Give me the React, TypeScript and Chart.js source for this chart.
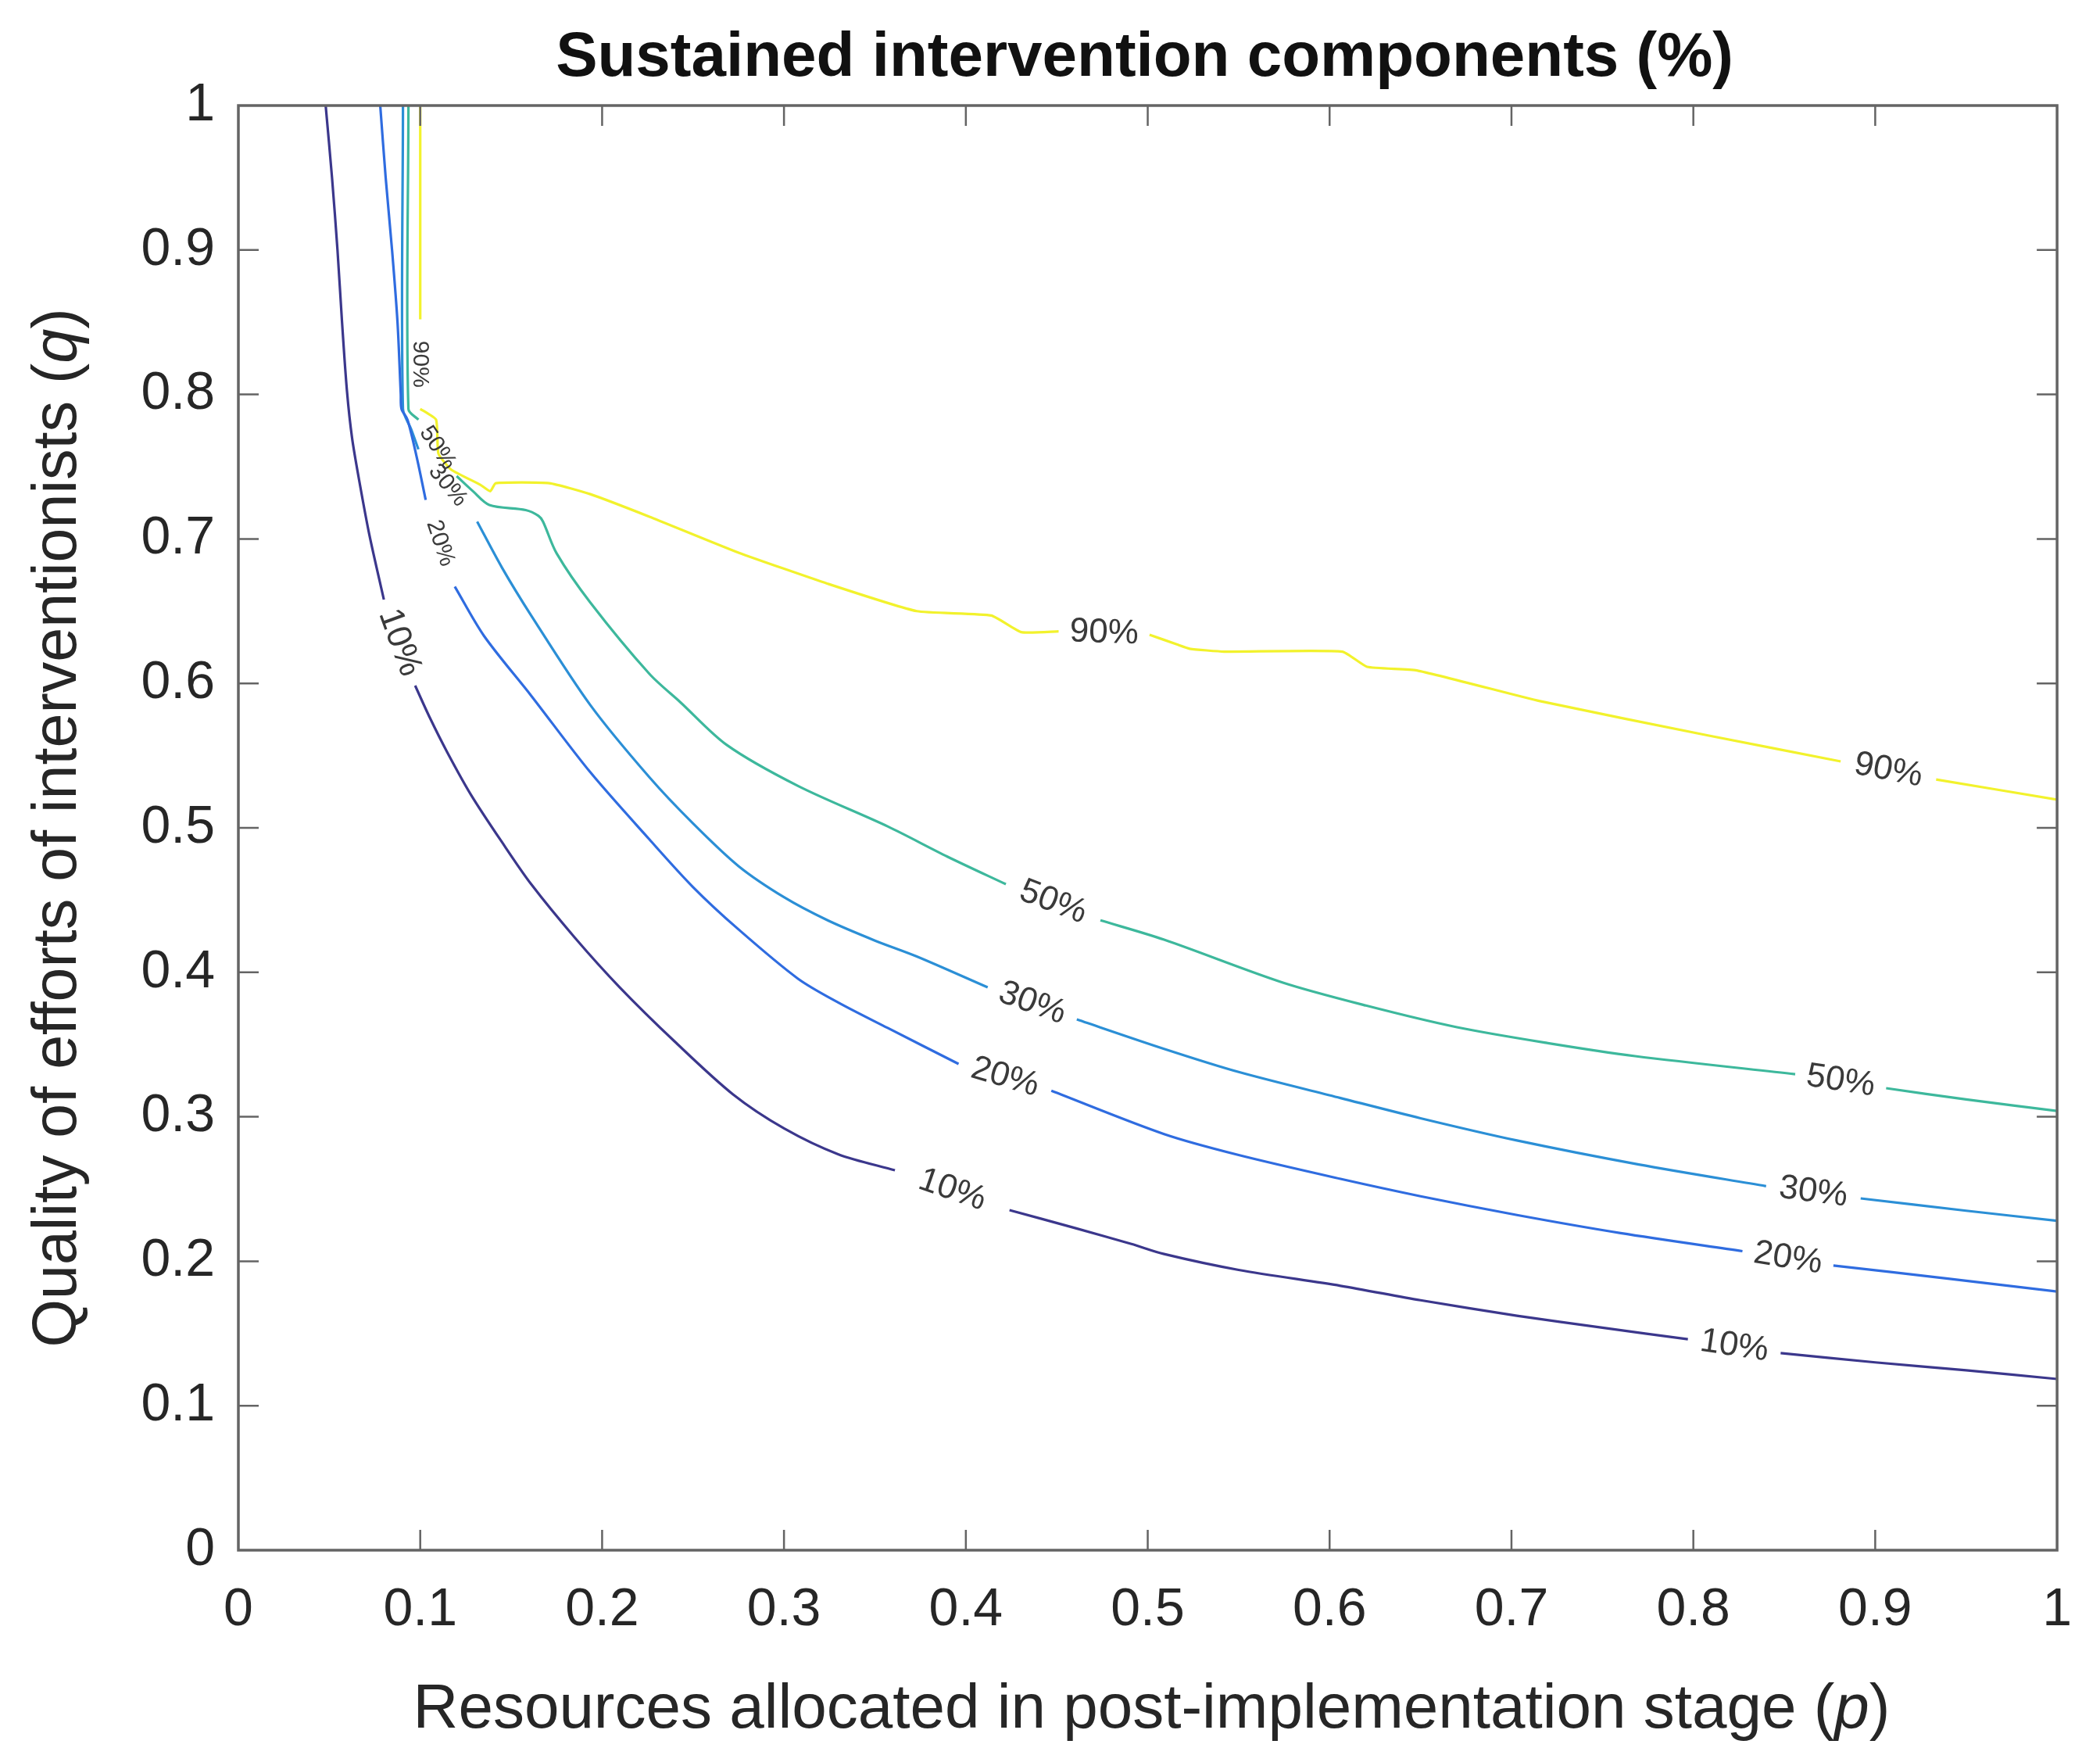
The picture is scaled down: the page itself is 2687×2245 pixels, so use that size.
import React, { useEffect, useRef } from 'react';
import { Chart, registerables } from 'chart.js';

Chart.register(...registerables);

// ---------------- data ----------------
type Pt = [number, number] | null; // [p, q]; null = gap where the level label sits

const levelNames = ['10%', '20%', '30%', '50%', '90%'];

const contour10: Pt[] = [
  [0.048, 1.0], [0.0515, 0.95], [0.0545, 0.9], [0.057, 0.85], [0.0597, 0.8025], [0.0625, 0.77],
  [0.0665, 0.74], [0.072, 0.703], [0.08, 0.658], null,
  [0.0972, 0.5985], [0.105, 0.577], [0.115, 0.552], [0.128, 0.5227], [0.145, 0.49], [0.161, 0.461],
  [0.185, 0.424], [0.2097, 0.3896], [0.24, 0.352], [0.272, 0.3155], [0.3, 0.292], [0.33, 0.274],
  [0.361, 0.263], null,
  [0.424, 0.2354], [0.46, 0.223], [0.491, 0.212], [0.509, 0.205], [0.55, 0.194], [0.606, 0.183],
  [0.65, 0.173], [0.703, 0.1623], [0.75, 0.154], [0.797, 0.146], null,
  [0.848, 0.1364], [0.9, 0.13], [0.95, 0.1245], [1.0, 0.1185],
];

const contour20: Pt[] = [
  [0.078, 1.0], [0.081, 0.95], [0.0845, 0.9], [0.0875, 0.85], [0.0893, 0.8], [0.0897, 0.79],
  [0.093, 0.7825], [0.098, 0.757], [0.103, 0.727], null,
  [0.119, 0.667], [0.135, 0.633], [0.161, 0.5915], [0.1935, 0.5385], [0.226, 0.492], [0.25, 0.459],
  [0.275, 0.4297], [0.3077, 0.3956], [0.33, 0.379], [0.357, 0.3615], [0.396, 0.3366], null,
  [0.447, 0.318], [0.509, 0.288], [0.55, 0.2735], [0.606, 0.257], [0.65, 0.245], [0.703, 0.232],
  [0.76, 0.2195], [0.827, 0.207], null,
  [0.877, 0.197], [0.94, 0.188], [1.0, 0.179],
];

const contour30: Pt[] = [
  [0.0905, 1.0], [0.0905, 0.79], [0.095, 0.776], [0.099, 0.762], null,
  [0.1313, 0.712], [0.145, 0.68], [0.161, 0.647], [0.1935, 0.585], [0.226, 0.535], [0.25, 0.503],
  [0.275, 0.4735], [0.3, 0.452], [0.324, 0.436], [0.35, 0.422], [0.373, 0.411], [0.412, 0.3896], null,
  [0.461, 0.3674], [0.509, 0.347], [0.55, 0.331], [0.606, 0.313], [0.65, 0.299], [0.703, 0.2836],
  [0.77, 0.267], [0.84, 0.252], null,
  [0.892, 0.2435], [0.95, 0.235], [1.0, 0.228],
];

const contour50: Pt[] = [
  [0.0935, 1.0], [0.0935, 0.79], [0.099, 0.7825], null,
  [0.12, 0.7435], [0.129, 0.733], [0.138, 0.7235], [0.158, 0.72], [0.165, 0.716], [0.1675, 0.712],
  [0.175, 0.69], [0.1935, 0.656], [0.226, 0.6066], [0.243, 0.587], [0.2685, 0.5574], [0.3077, 0.529],
  [0.357, 0.501], [0.39, 0.48], [0.422, 0.461], null,
  [0.474, 0.436], [0.509, 0.4226], [0.574, 0.393], [0.62, 0.377], [0.67, 0.362], [0.72, 0.351],
  [0.768, 0.342], [0.856, 0.3295], null,
  [0.906, 0.3198], [0.95, 0.312], [1.0, 0.304],
];

const contour90: Pt[] = [
  [0.1, 1.0], [0.1, 0.852], null,
  [0.1, 0.79], [0.1087, 0.7825], [0.11, 0.759], [0.117, 0.748], [0.133, 0.7375], [0.1385, 0.733],
  [0.1415, 0.7386], [0.171, 0.7386], [0.1935, 0.731], [0.226, 0.7154], [0.275, 0.6905], [0.324, 0.669],
  [0.373, 0.65], [0.414, 0.647], [0.4305, 0.6355], [0.451, 0.636], null,
  [0.501, 0.6337], [0.516, 0.627], [0.523, 0.624], [0.542, 0.622], [0.607, 0.622], [0.6206, 0.6115],
  [0.648, 0.609], [0.7157, 0.5877], [0.808, 0.564], [0.881, 0.546], null,
  [0.9335, 0.5335], [1.0, 0.5195],
];

const contours: Pt[][] = [contour10, contour20, contour30, contour50, contour90];

const xTickValues = [0, 0.1, 0.2, 0.3, 0.4, 0.5, 0.6, 0.7, 0.8, 0.9, 1];
const xTickLabels = ['0', '0.1', '0.2', '0.3', '0.4', '0.5', '0.6', '0.7', '0.8', '0.9', '1'];
const yTickValues = [0, 0.1, 0.2, 0.3, 0.4, 0.5, 0.6, 0.7, 0.8, 0.9, 1];
const yTickLabels = ['0', '0.1', '0.2', '0.3', '0.4', '0.5', '0.6', '0.7', '0.8', '0.9', '1'];

const titleText = 'Sustained intervention components (%)';
const xTitleParts = [
  { text: 'Resources allocated in post-implementation stage (', italic: false },
  { text: 'p', italic: true },
  { text: ')', italic: false },
];
const yTitleParts = [
  { text: 'Quality of efforts of interventionists (', italic: false },
  { text: 'q', italic: true },
  { text: ')', italic: false },
];

// ---------------- styles ----------------
const FONT = "'Liberation Sans', Arial, Helvetica, sans-serif";
const lineColors = ['#3B378C', '#2F6CE0', '#2B8FD6', '#3DB89C', '#F2F22C'];
const lineTension = [0.3, 0.3, 0.3, 0.3, 0.15];
const smallLabelKeys = ['1:0', '2:0', '3:0', '4:0'];
const LABEL_SIZE = 44;
const SMALL_LABEL_SIZE = 30;
const FRAME_COLOR = '#646464';
const TICK_LEN = 26;

// split a contour into its continuous pieces (one dataset per piece)
function pieces(points: Pt[]) {
  const out: { x: number; y: number }[][] = [[]];
  for (const p of points) {
    if (p) out[out.length - 1].push({ x: p[0], y: p[1] });
    else out.push([]);
  }
  return out;
}

function drawParts(ctx: CanvasRenderingContext2D, parts: { text: string; italic: boolean }[], size: number) {
  const fonts = parts.map((p) => `${p.italic ? 'italic ' : ''}${size}px ${FONT}`);
  let total = 0;
  const widths = parts.map((p, i) => {
    ctx.font = fonts[i];
    const w = ctx.measureText(p.text).width;
    total += w;
    return w;
  });
  let x = -total / 2;
  ctx.textAlign = 'left';
  ctx.textBaseline = 'alphabetic';
  parts.forEach((p, i) => {
    ctx.font = fonts[i];
    ctx.fillText(p.text, x, 0);
    x += widths[i];
  });
}

const decorPlugin = {
  id: 'contourDecor',
  afterDatasetsDraw(chart: any) {
    const { ctx, chartArea: a, scales } = chart;
    const xs = scales.x;
    const ys = scales.y;

    // contour level labels, placed in the gaps of each contour line
    contours.forEach((pts, si) => {
      let gap = 0;
      for (let i = 1; i < pts.length - 1; i++) {
        if (pts[i] === null) {
          const p0 = pts[i - 1] as [number, number];
          const p1 = pts[i + 1] as [number, number];
          const x0 = xs.getPixelForValue(p0[0]);
          const y0 = ys.getPixelForValue(p0[1]);
          const x1 = xs.getPixelForValue(p1[0]);
          const y1 = ys.getPixelForValue(p1[1]);
          let ang = Math.atan2(y1 - y0, x1 - x0);
          if (ang > Math.PI / 2 + 1e-6) ang -= Math.PI;
          if (ang < -Math.PI / 2 - 1e-6) ang += Math.PI;
          const size = smallLabelKeys.includes(`${si}:${gap}`) ? SMALL_LABEL_SIZE : LABEL_SIZE;
          ctx.save();
          ctx.translate((x0 + x1) / 2, (y0 + y1) / 2);
          ctx.rotate(ang);
          ctx.font = `${size}px ${FONT}`;
          ctx.fillStyle = '#3a3a3a';
          ctx.textAlign = 'center';
          ctx.textBaseline = 'middle';
          ctx.fillText(levelNames[si], 0, 0);
          ctx.restore();
          gap++;
        }
      }
    });

    // box and inward ticks
    ctx.save();
    ctx.strokeStyle = FRAME_COLOR;
    ctx.lineWidth = 2.5;
    xTickValues.forEach((v) => {
      if (v <= 0 || v >= 1) return;
      const px = xs.getPixelForValue(v);
      ctx.beginPath();
      ctx.moveTo(px, a.bottom);
      ctx.lineTo(px, a.bottom - TICK_LEN);
      ctx.moveTo(px, a.top);
      ctx.lineTo(px, a.top + TICK_LEN);
      ctx.stroke();
    });
    yTickValues.forEach((v) => {
      if (v <= 0 || v >= 1) return;
      const py = ys.getPixelForValue(v);
      ctx.beginPath();
      ctx.moveTo(a.left, py);
      ctx.lineTo(a.left + TICK_LEN, py);
      ctx.moveTo(a.right, py);
      ctx.lineTo(a.right - TICK_LEN, py);
      ctx.stroke();
    });
    ctx.lineWidth = 3.5;
    ctx.strokeRect(a.left, a.top, a.right - a.left, a.bottom - a.top);
    ctx.restore();
  },
  afterDraw(chart: any) {
    const { ctx, chartArea: a } = chart;
    const cx = (a.left + a.right) / 2;
    const cy = (a.top + a.bottom) / 2;
    ctx.save();
    ctx.fillStyle = '#111111';
    ctx.font = `bold 80px ${FONT}`;
    ctx.textAlign = 'center';
    ctx.textBaseline = 'alphabetic';
    ctx.fillText(titleText, cx - 4, 97);

    ctx.fillStyle = '#262626';
    ctx.save();
    ctx.translate(cx + 5, 2210);
    drawParts(ctx, xTitleParts, 80);
    ctx.restore();

    ctx.save();
    ctx.translate(97, cy);
    ctx.rotate(-Math.PI / 2);
    drawParts(ctx, yTitleParts, 79);
    ctx.restore();
    ctx.restore();
  },
};

export default function App() {
  const canvasRef = useRef<HTMLCanvasElement | null>(null);

  useEffect(() => {
    if (!canvasRef.current) return;
    const datasets: any[] = [];
    contours.forEach((c, i) => {
      pieces(c).forEach((piece) => {
        datasets.push({
          label: levelNames[i],
          data: piece,
          borderColor: lineColors[i],
          backgroundColor: lineColors[i],
          borderWidth: 3.2,
          pointRadius: 0,
          pointHoverRadius: 0,
          tension: lineTension[i],
          fill: false,
        });
      });
    });

    const chart = new Chart(canvasRef.current, {
      type: 'line',
      data: { datasets } as any,
      options: {
        animation: false,
        responsive: true,
        maintainAspectRatio: false,
        devicePixelRatio: 1,
        layout: { padding: { top: 135, right: 36, bottom: 0, left: 0 } },
        plugins: {
          legend: { display: false },
          tooltip: { enabled: false },
          title: { display: false },
        },
        scales: {
          x: {
            type: 'linear',
            position: 'bottom',
            min: 0,
            max: 1,
            afterBuildTicks: (s: any) => {
              s.ticks = xTickValues.map((v) => ({ value: v }));
            },
            afterFit: (s: any) => {
              s.height = 262;
            },
            ticks: {
              autoSkip: false,
              maxRotation: 0,
              minRotation: 0,
              padding: 36,
              color: '#262626',
              font: { size: 68, family: FONT },
              callback: (_v: any, i: number) => xTickLabels[i],
            },
            grid: { display: false, drawTicks: false },
            border: { display: false },
          },
          y: {
            type: 'linear',
            position: 'left',
            min: 0,
            max: 1,
            afterBuildTicks: (s: any) => {
              s.ticks = yTickValues.map((v) => ({ value: v }));
            },
            afterFit: (s: any) => {
              s.width = 305;
            },
            ticks: {
              autoSkip: false,
              padding: 30,
              color: '#262626',
              font: { size: 68, family: FONT },
              callback: (_v: any, i: number) => yTickLabels[i],
            },
            grid: { display: false, drawTicks: false },
            border: { display: false },
          },
        },
      } as any,
      plugins: [decorPlugin],
    });
    return () => chart.destroy();
  }, []);

  return (
    <div
      style={{
        position: 'fixed',
        left: 0,
        top: 0,
        width: 2687,
        height: 2245,
        background: '#ffffff',
      }}
    >
      <canvas ref={canvasRef} />
    </div>
  );
}
